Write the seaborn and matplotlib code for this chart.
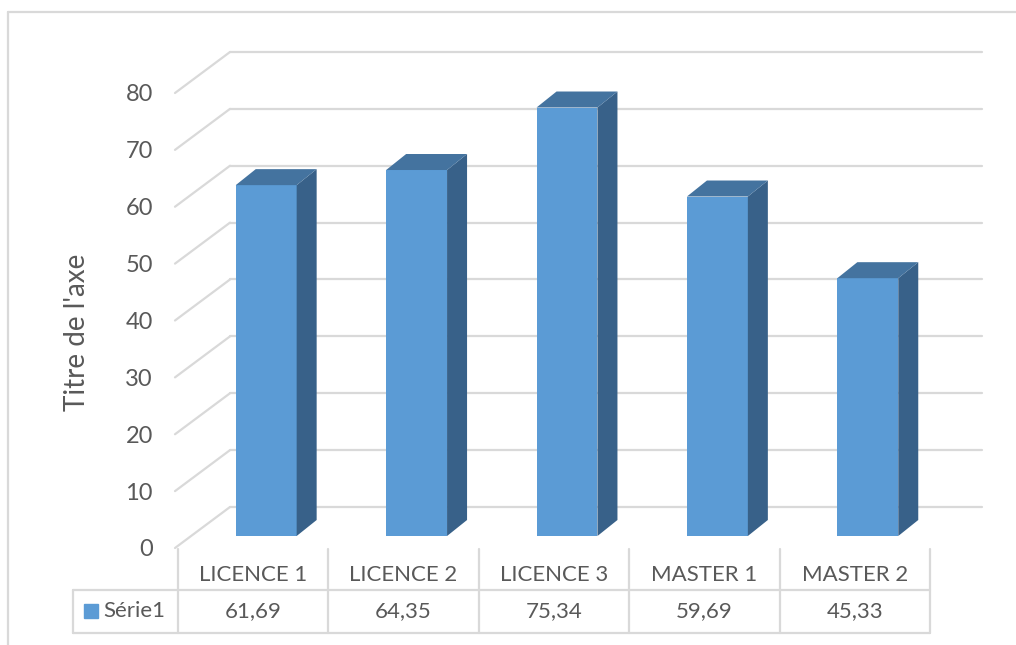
import matplotlib
matplotlib.use("Agg")
import matplotlib.pyplot as plt
from matplotlib.patches import Polygon
from matplotlib.lines import Line2D
from matplotlib.transforms import Affine2D
import seaborn as sns

# Data
categories = ["LICENCE 1", "LICENCE 2", "LICENCE 3", "MASTER 1", "MASTER 2"]
values = [61.69, 64.35, 75.34, 59.69, 45.33]
series_name = "Série1"
y_ticks = [0, 10, 20, 30, 40, 50, 60, 70, 80]
axis_title = "Titre de l'axe"

sns.set_theme(style="white")
plt.rcParams["font.family"] = ["Lato", "DejaVu Sans"]

FRONT = "#5B9BD5"
TOP = "#44739F"
SIDE = "#386189"
GRID = "#D9D9D9"
TEXT = "#595959"

W, H = 1016, 645
fig = plt.figure(figsize=(W / 100, H / 100), dpi=100)
fig.patch.set_facecolor("white")

# Plot area in the front plane of the floor
ax = fig.add_axes([178 / W, (H - 548) / H, 752 / W, 455 / H])
sns.barplot(x=categories, y=values, color=FRONT, width=0.405, saturation=1,
            linewidth=0, ax=ax, zorder=3)
ax.set_xlim(-0.5, 4.5)
ax.set_ylim(0, 80)
ax.set_xticks([])
ax.set_xlabel("")
ax.set_ylabel("")
for s in ax.spines.values():
    s.set_visible(False)
ax.patch.set_alpha(0)


def px2data(dx, dy):
    inv = ax.transData.inverted()
    a = inv.transform((0, 0))
    b = inv.transform((dx, dy))
    return b[0] - a[0], b[1] - a[1]


# 3-D depth offsets (display pixels)
bar_shift = Affine2D().translate(13, 12)
wall_dx, wall_dy = px2data(52, 41)
depth_dx, depth_dy = px2data(20, 16)
left_pad, _ = px2data(3, 0)

# Back wall and side wall gridlines
wall_tr = ax.transData + Affine2D().translate(52, 41)
for v in y_ticks:
    ax.add_line(Line2D([-0.5, 4.5], [v, v], transform=wall_tr, color=GRID,
                       lw=1.6, zorder=0.5, clip_on=False))
    ax.add_line(Line2D([-0.5 - left_pad, -0.5 + wall_dx], [v, v + wall_dy],
                       color=GRID, lw=1.6, zorder=0.5, clip_on=False))

# Front faces come from seaborn; add side and top faces
bar_tr = ax.transData + bar_shift
for p in list(ax.patches):
    p.set_transform(bar_tr)
    p.set_clip_on(False)
    x0, w, h = p.get_x(), p.get_width(), p.get_height()
    x1 = x0 + w
    side = Polygon([(x1, 0), (x1, h), (x1 + depth_dx, h + depth_dy),
                    (x1 + depth_dx, depth_dy)], closed=True, facecolor=SIDE,
                   edgecolor="none", transform=bar_tr, zorder=3, clip_on=False)
    top = Polygon([(x0, h), (x1, h), (x1 + depth_dx, h + depth_dy),
                   (x0 + depth_dx, h + depth_dy)], closed=True, facecolor=TOP,
                  edgecolor="none", transform=bar_tr, zorder=3, clip_on=False)
    ax.add_patch(side)
    ax.add_patch(top)

ax.set_yticks(y_ticks)
ax.set_yticklabels([str(t) for t in y_ticks])
ax.tick_params(axis="y", length=0, pad=18, labelsize=17, labelcolor=TEXT)
ax.text(-0.134, 0.475, axis_title, transform=ax.transAxes, rotation=90,
        ha="center", va="center", fontsize=20, color=TEXT)

# Data table under the chart
tax = fig.add_axes([178 / W, (H - 633) / H, 752 / W, 84 / H])
tax.set_xlim(-0.5, 4.5)
tax.set_ylim(84, 0)
tax.axis("off")
legend_left = -0.5 - 105 / 150.4
for k in range(len(categories) + 1):
    tax.add_line(Line2D([-0.5 + k, -0.5 + k], [0, 84], color=GRID, lw=1.6,
                        clip_on=False))
for yy in (41, 84):
    tax.add_line(Line2D([legend_left, 4.5], [yy, yy], color=GRID, lw=1.6,
                        clip_on=False))
tax.add_line(Line2D([legend_left, legend_left], [41, 84], color=GRID, lw=1.6,
                    clip_on=False))
for i, (c, v) in enumerate(zip(categories, values)):
    tax.text(i, 26, c, ha="center", va="center", fontsize=16, color=TEXT)
    tax.text(i, 62, f"{v:.2f}".replace(".", ","), ha="center", va="center",
             fontsize=16, color=TEXT)
tax.plot([-0.5 + (90.5 - 178) / 150.4], [62], marker="s", markersize=10,
         color=FRONT, clip_on=False, linestyle="none")
tax.text(-0.5 + (103 - 178) / 150.4, 62, series_name, ha="left", va="center",
         fontsize=16, color=TEXT)

# Chart frame
fig.add_artist(Line2D([8 / W, 1], [1 - 12 / H, 1 - 12 / H],
                      transform=fig.transFigure, color=GRID, lw=1.6))
fig.add_artist(Line2D([8 / W, 8 / W], [0, 1 - 12 / H],
                      transform=fig.transFigure, color=GRID, lw=1.6))

fig.savefig("out.png", dpi=100, facecolor="white")
